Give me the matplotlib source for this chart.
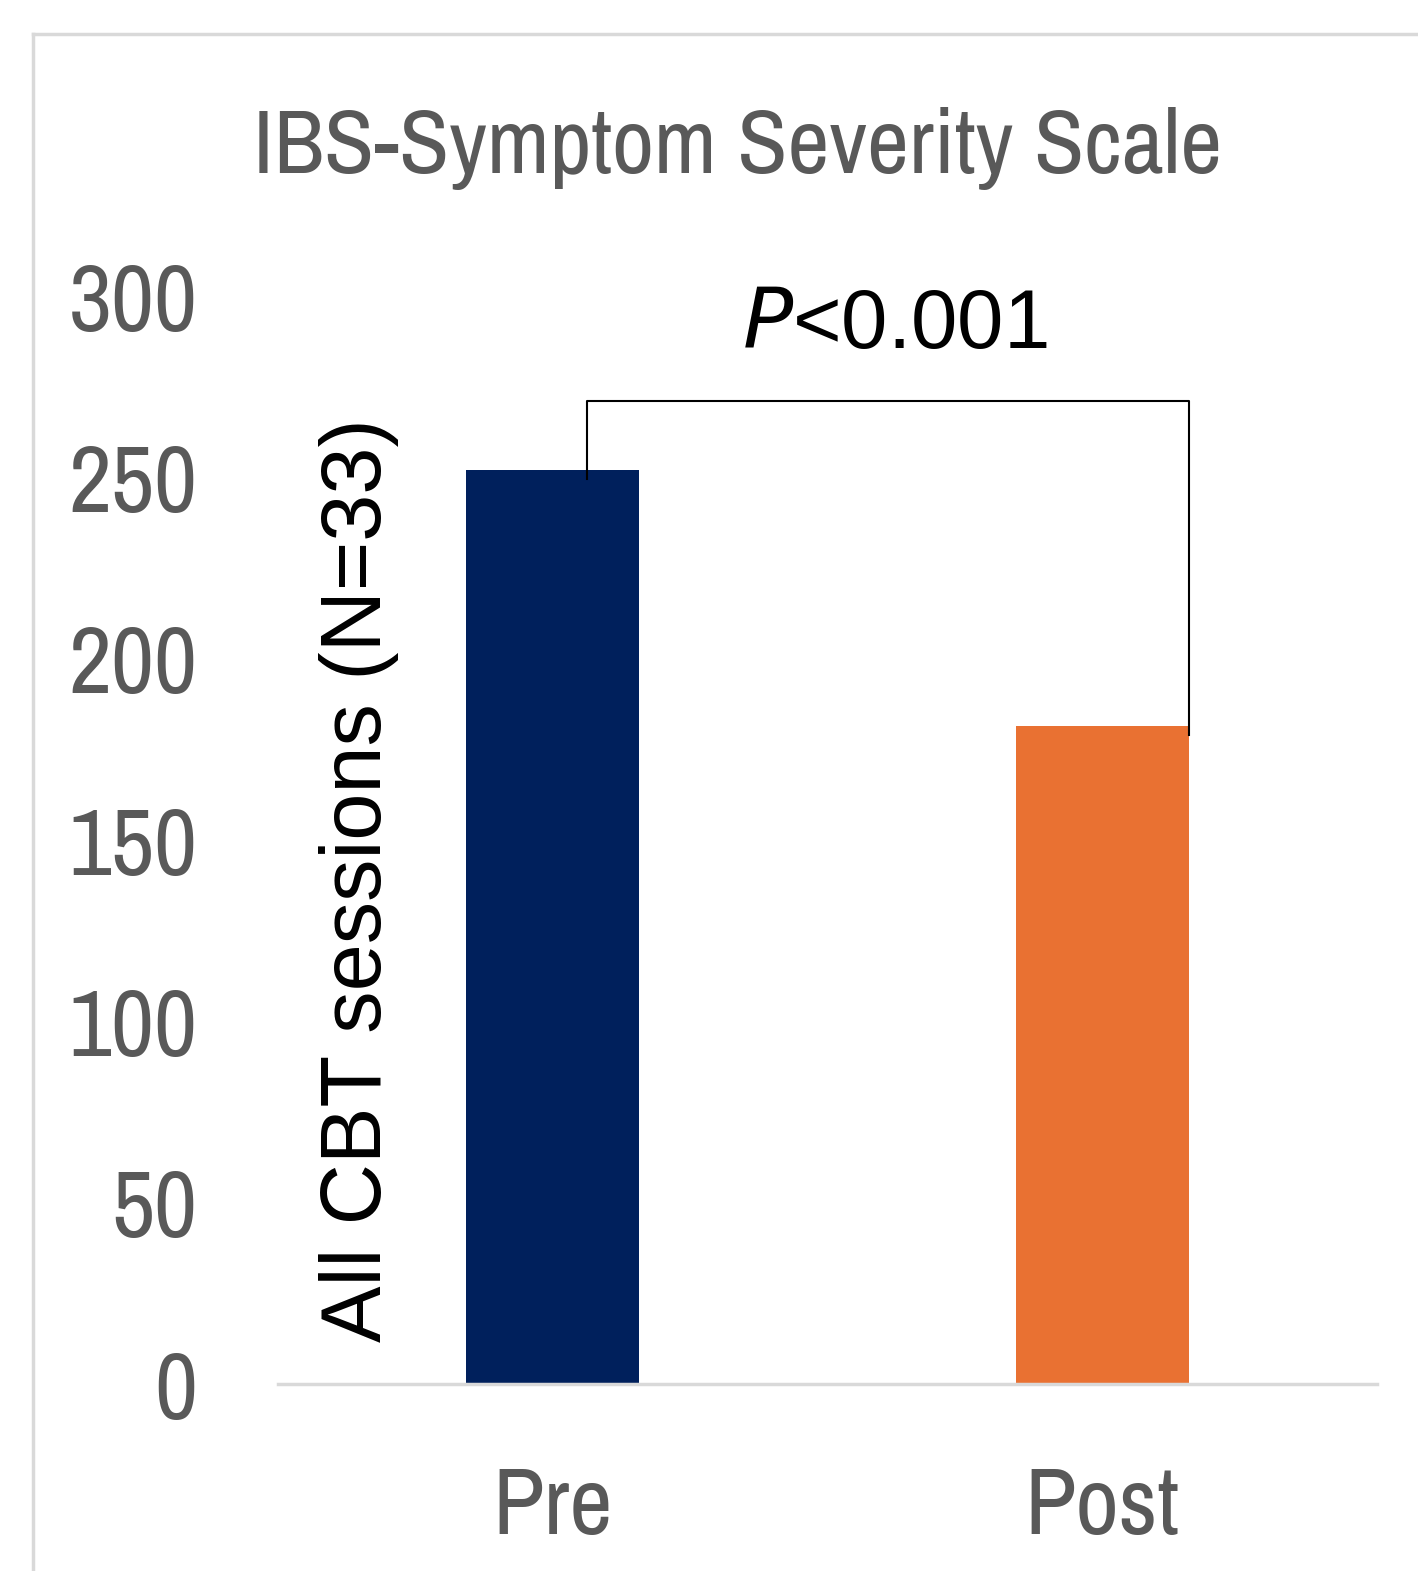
import matplotlib
matplotlib.use("Agg")
import matplotlib.pyplot as plt
import matplotlib.font_manager as fm
from matplotlib.lines import Line2D

# data
groups = ["Pre", "Post"]
scores = [252, 181.5]
bar_colors = ["#00205C", "#E97132"]
y_ticks = [0, 50, 100, 150, 200, 250, 300]

bracket_y = 271
bracket_left_bottom = 249.5
bracket_right_bottom = 179
p_text = "$\\mathit{P}$<0.001"


# look for an upright condensed face (the reference uses Arial Narrow)
def find_narrow():
    upright = [f for f in fm.fontManager.ttflist
               if f.style == "normal" and f.weight in (400, "normal", "regular")]
    for f in upright:
        if "Narrow" in f.name:
            return f.fname
    for f in upright:
        if "Condensed" in f.name or f.stretch in ("condensed", "semi-condensed"):
            return f.fname
    return None


narrow_file = find_narrow()
regular = ["Liberation Sans", "DejaVu Sans"]
grey = "#595959"


def gray_font(size):
    if narrow_file is not None:
        return fm.FontProperties(fname=narrow_file, size=size)
    return fm.FontProperties(family=regular, size=size * 0.85)


fig = plt.figure(figsize=(14.18, 15.71), dpi=100)
ax = fig.add_axes([278 / 1418, 187 / 1571, 1099 / 1418, 1088 / 1571])

x = list(range(len(groups)))
width = 0.314
ax.bar(x, scores, width=width, color=bar_colors, zorder=2)
ax.set_xlim(-0.5, 1.5)
ax.set_ylim(0, 300)

for s in ["top", "right", "left"]:
    ax.spines[s].set_visible(False)
ax.spines["bottom"].set_color("#D9D9D9")
ax.spines["bottom"].set_linewidth(2.5)

ax.set_yticks(y_ticks)
ax.set_yticklabels([str(t) for t in y_ticks], fontproperties=gray_font(68), color=grey)
ax.set_xticks(x)
ax.set_xticklabels(groups, fontproperties=gray_font(68), color=grey)
ax.tick_params(axis="y", length=0, pad=58)
ax.tick_params(axis="x", length=0, pad=58)

# significance bracket
xl = 0.0626
xr = 1 + width / 2
ax.plot([xl, xl, xr, xr], [bracket_left_bottom, bracket_y, bracket_y, bracket_right_bottom],
        color="black", linewidth=1.5, clip_on=False, zorder=3)
ax.text((xl + xr) / 2 + 0.012, 281, p_text, fontsize=60, ha="center", va="bottom",
        family=regular, color="black", clip_on=False)

# y label sitting inside the plot area
fig.text(359 / 1418, 1 - 880 / 1571, "All CBT sessions (N=33)", rotation=90,
         fontsize=61, ha="center", va="center", family=regular, color="black")

# title
fig.text(738 / 1418, 1 - 148 / 1571, "IBS-Symptom Severity Scale",
         fontproperties=gray_font(66), ha="center", va="center", color=grey)

# light frame around chart
fl, ft = 33 / 1418, 1 - 34 / 1571
fig.add_artist(Line2D([fl, fl], [0, ft], color="#D9D9D9", linewidth=2.5, transform=fig.transFigure))
fig.add_artist(Line2D([fl, 1], [ft, ft], color="#D9D9D9", linewidth=2.5, transform=fig.transFigure))

fig.savefig("out.png", dpi=100)
